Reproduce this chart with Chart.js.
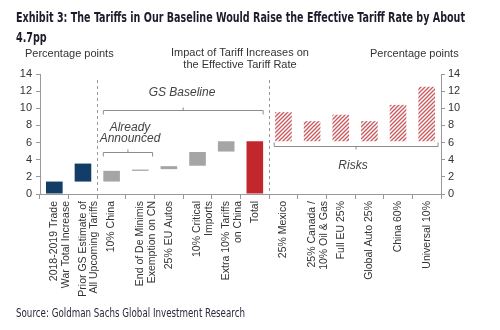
<!DOCTYPE html>
<html>
<head>
<meta charset="utf-8">
<script src="https://cdn.jsdelivr.net/npm/chart.js@4/dist/chart.umd.min.js"></script>
<style>
  html, body { margin: 0; padding: 0; background: #fff; }
  #wrap { width: 500px; height: 330px; position: relative; }
</style>
</head>
<body>
<div id="wrap"><canvas id="myChart" width="500" height="330"></canvas></div>
<script>
const categories = [
    ['2018-2019 Trade', 'War Total Increase'],
    ['Prior GS Estimate of', 'All Upcoming Tariffs'],
    '10% China',
    ['End of De Minimis', 'Exemption on CN'],
    '25% EU Autos',
    ['10% Critical', 'Imports'],
    ['Extra 10% Tariffs', 'on China'],
    'Total',
    '25% Mexico',
    ['25% Canada /', '10% Oil & Gas'],
    'Full EU 25%',
    'Global Auto 25%',
    'China 60%',
    'Universal 10%'
];
const barLow  = [0, 1.45, 1.45, 2.7, 2.9, 3.3, 4.95, 0, 6.15, 6.15, 6.15, 6.15, 6.15, 6.15];
const barHigh = [1.45, 3.55, 2.7, 2.85, 3.25, 4.9, 6.15, 6.15, 9.55, 8.5, 9.25, 8.5, 10.4, 12.5];
const barKind = ['navy', 'navy', 'grey', 'grey', 'grey', 'grey', 'grey', 'red', 'risk', 'risk', 'risk', 'risk', 'risk', 'risk'];
const yTicks = [0, 2, 4, 6, 8, 10, 12, 14];

const ctx = document.getElementById('myChart').getContext('2d');

// red hatch for the risk bars
const hatchCanvas = document.createElement('canvas');
hatchCanvas.width = 4;
hatchCanvas.height = 4;
const hc = hatchCanvas.getContext('2d');
hc.fillStyle = '#ffffff';
hc.fillRect(0, 0, 4, 4);
hc.strokeStyle = '#c9585c';
hc.lineWidth = 1.3;
hc.beginPath();
hc.moveTo(-1, 5); hc.lineTo(5, -1);
hc.moveTo(-1, 1); hc.lineTo(1, -1);
hc.moveTo(3, 5); hc.lineTo(5, 3);
hc.stroke();
const hatch = ctx.createPattern(hatchCanvas, 'repeat');

const colours = { navy: '#123d66', grey: '#a5a5a5', red: '#c1272d', risk: hatch };

const fontSans = '"Liberation Sans", Arial, sans-serif';
const fontNarrow = '"DejaVu Sans Condensed", "DejaVu Sans", sans-serif';

// draw text squeezed horizontally to a given width (narrow house font)
function fitText(c, text, x, y, width) {
    const w = c.measureText(text).width;
    c.save();
    c.translate(x, y);
    c.scale(width / w, 1);
    c.fillText(text, 0, 0);
    c.restore();
}

const annotations = {
    id: 'annotations',
    afterDraw(chart) {
        const c = chart.ctx;
        const x = chart.scales.x;
        const y = chart.scales.y;
        const half = (x.getPixelForValue(1) - x.getPixelForValue(0)) / 2;
        c.save();

        // title
        c.fillStyle = '#1c1c2c';
        c.font = 'bold 14px ' + fontNarrow;
        c.textBaseline = 'alphabetic';
        c.textAlign = 'left';
        const line1 = 'Exhibit 3: The Tariffs in Our Baseline Would Raise the Effective Tariff Rate by About';
        const k = 449 / c.measureText(line1).width;
        fitText(c, line1, 16, 22, 449);
        fitText(c, '4.7pp', 16, 42, c.measureText('4.7pp').width * k);

        // headers
        c.fillStyle = '#333';
        c.font = '11px ' + fontSans;
        c.textAlign = 'left';
        c.fillText('Percentage points', 25, 57);
        c.fillText('Percentage points', 370, 57);
        c.textAlign = 'center';
        c.fillText('Impact of Tariff Increases on', 240, 56);
        c.fillText('the Effective Tariff Rate', 240, 68);

        // source
        c.textAlign = 'left';
        c.fillStyle = '#2a2a3a';
        c.font = '12px ' + fontNarrow;
        fitText(c, 'Source: Goldman Sachs Global Investment Research', 16, 317, 229);

        // dashed separators
        c.strokeStyle = '#9a9a9a';
        c.lineWidth = 1;
        c.setLineDash([3, 3]);
        [1.5, 7.5].forEach(v => {
            const px = Math.round(x.getPixelForValue(v)) + 0.5;
            c.beginPath();
            c.moveTo(px, 80);
            c.lineTo(px, y.getPixelForValue(0));
            c.stroke();
        });
        c.setLineDash([]);

        // brackets
        function bracket(x1, x2, yv, dir) {
            const py = Math.round(y.getPixelForValue(yv)) + 0.5;
            const mid = (x1 + x2) / 2;
            c.strokeStyle = '#8c8c8c';
            c.lineWidth = 1;
            c.beginPath();
            c.moveTo(x1, py + 4 * dir);
            c.lineTo(x1, py);
            c.lineTo(x2, py);
            c.lineTo(x2, py + 4 * dir);
            c.moveTo(mid, py);
            c.lineTo(mid, py - 3 * dir);
            c.stroke();
        }
        bracket(x.getPixelForValue(2) - half + 6, x.getPixelForValue(7) + half - 6, 9.8, 1);
        bracket(x.getPixelForValue(2) - half + 6, x.getPixelForValue(3) + half - 2, 4.85, 1);
        bracket(x.getPixelForValue(8) - half + 5, x.getPixelForValue(13) + half - 3, 5.6, -1);

        c.fillStyle = '#444';
        c.font = 'italic 12px ' + fontSans;
        c.textAlign = 'center';
        c.fillText('GS Baseline', 182, 96);
        c.fillText('Already', 130, 131);
        c.fillText('Announced', 130, 142);
        c.fillText('Risks', 353, 169);
        c.restore();
    }
};

const tariffChart = new Chart(ctx, {
    type: 'bar',
    data: {
        labels: categories,
        datasets: [
            {
                data: barLow.map((lo, i) => [lo, barHigh[i]]),
                backgroundColor: barKind.map(k => colours[k]),
                borderWidth: 0,
                barPercentage: 0.58,
                categoryPercentage: 1.0,
                yAxisID: 'y'
            }
        ]
    },
    options: {
        responsive: false,
        animation: false,
        layout: { padding: { top: 74, left: 0, right: 0, bottom: 0 } },
        plugins: {
            legend: { display: false },
            tooltip: { enabled: false }
        },
        scales: {
            x: {
                offset: true,
                grid: { display: true, drawOnChartArea: false, offset: true, tickLength: 5, color: '#999' },
                border: { display: true, color: '#999' },
                ticks: {
                    minRotation: 90, maxRotation: 90, autoSkip: false,
                    color: '#333', padding: 2,
                    font: { family: fontSans, size: 10.5, lineHeight: 1.1 }
                },
                afterFit: s => { s.height = 136; }
            },
            y: {
                position: 'left',
                min: 0, max: 14,
                afterBuildTicks: s => { s.ticks = yTicks.map(v => ({ value: v })); },
                grid: { display: true, drawOnChartArea: false, tickLength: 4, color: '#999' },
                border: { display: true, color: '#999' },
                ticks: { color: '#333', padding: 4, font: { family: fontSans, size: 11 } },
                afterFit: s => { s.width = 40; }
            },
            y2: {
                position: 'right',
                min: 0, max: 14,
                afterBuildTicks: s => { s.ticks = yTicks.map(v => ({ value: v })); },
                grid: { display: true, drawOnChartArea: false, tickLength: 4, color: '#999' },
                border: { display: true, color: '#999' },
                ticks: { color: '#333', padding: 3, font: { family: fontSans, size: 11 } },
                afterFit: s => { s.width = 59; }
            }
        }
    },
    plugins: [annotations]
});
</script>
</body>
</html>
